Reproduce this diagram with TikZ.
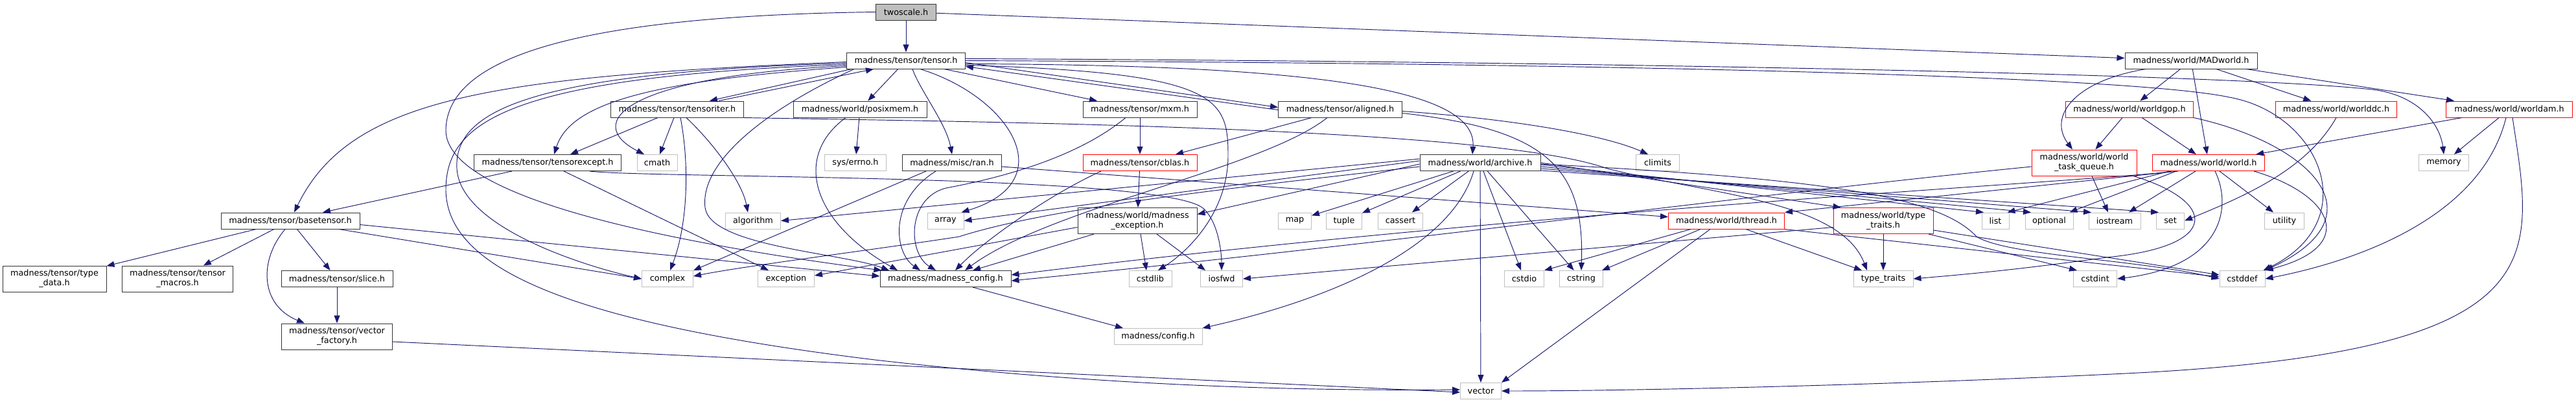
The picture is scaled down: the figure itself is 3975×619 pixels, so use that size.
\documentclass[tikz,border=0pt]{standalone}
\usepackage{fontspec}
\setmainfont{DejaVu Sans}
\usetikzlibrary{arrows.meta}
\definecolor{edgeblue}{HTML}{191970}
\definecolor{sysgray}{HTML}{BFBFBF}
\definecolor{boxline}{HTML}{333333}
\begin{document}
\begin{tikzpicture}[
    x=1pt, y=-1pt,
    hdr/.style={draw=boxline, fill=white, line width=1pt, inner sep=0pt, minimum height=25pt, align=center, font=\fontsize{12.8}{15}\selectfont},
    sys/.style={hdr, draw=sysgray},
    trunc/.style={hdr, draw=red},
    twoline/.style={minimum height=40pt},
    dep/.style={draw=edgeblue, line width=0.95pt, -{Triangle[length=12pt,width=9pt]}}
  ]
    \path[use as bounding box, fill=white] (0,0) rectangle (3975,619);

    % row 1 and 2
    \node[hdr, fill=sysgray, minimum width=93pt] (twoscale) at (1398,18.5) {twoscale.h};
    \node[hdr, minimum width=183pt] (tensor) at (1398,93.5) {madness/tensor/tensor.h};
    \node[hdr, minimum width=204pt] (madworld) at (3381,93.5) {madness/world/MADworld.h};

    % row 3
    \node[hdr, minimum width=205pt] (tensoriter) at (1045,168.5) {madness/tensor/tensoriter.h};
    \node[hdr, minimum width=206pt] (posixmem) at (1327,168.5) {madness/world/posixmem.h};
    \node[hdr, minimum width=176pt] (mxm) at (1759,168.5) {madness/tensor/mxm.h};
    \node[hdr, minimum width=191pt] (aligned) at (2068,168.5) {madness/tensor/aligned.h};
    \node[trunc, minimum width=197pt] (worldgop) at (3286,168.5) {madness/world/worldgop.h};
    \node[trunc, minimum width=187pt] (worlddc) at (3605,168.5) {madness/world/worlddc.h};
    \node[trunc, minimum width=195pt] (worldam) at (3872,168.5) {madness/world/worldam.h};

    % row 4
    \node[hdr, minimum width=227pt] (tensorexcept) at (845,251) {madness/tensor/tensorexcept.h};
    \node[sys, minimum width=62pt] (cmath) at (1014,251) {cmath};
    \node[sys, minimum width=95pt] (errno) at (1320,251) {sys/errno.h};
    \node[hdr, minimum width=153pt] (ran) at (1469,251) {madness/misc/ran.h};
    \node[trunc, minimum width=176pt] (cblas) at (1759,251) {madness/tensor/cblas.h};
    \node[hdr, minimum width=186pt] (archive) at (2284,251) {madness/world/archive.h};
    \node[sys, minimum width=67pt] (climits) at (2558,251) {climits};
    \node[trunc, twoline, minimum width=162pt] (taskq) at (3216,251) {madness/world/world\\\_task\_queue.h};
    \node[trunc, minimum width=173pt] (world) at (3408,251) {madness/world/world.h};
    \node[sys, minimum width=77pt] (memory) at (3771,251) {memory};

    % row 5
    \node[hdr, minimum width=214pt] (basetensor) at (448,340.5) {madness/tensor/basetensor.h};
    \node[sys, minimum width=85pt] (algorithm) at (1162,340.5) {algorithm};
    \node[sys, minimum width=56pt] (array) at (1459,340.5) {array};
    \node[hdr, twoline, minimum width=184pt] (mexcept) at (1755,340.5) {madness/world/madness\\\_exception.h};
    \node[sys, minimum width=51pt] (map) at (1998,340.5) {map};
    \node[sys, minimum width=55pt] (tuple) at (2074,340.5) {tuple};
    \node[sys, minimum width=69pt] (cassert) at (2161,340.5) {cassert};
    \node[trunc, minimum width=179pt] (thread) at (2664,340.5) {madness/world/thread.h};
    \node[trunc, twoline, minimum width=154pt] (wtypetraits) at (2906,340.5) {madness/world/type\\\_traits.h};
    \node[sys, minimum width=42pt] (list) at (3079,340.5) {list};
    \node[sys, minimum width=74pt] (optional) at (3162,340.5) {optional};
    \node[sys, minimum width=80pt] (iostream) at (3263,340.5) {iostream};
    \node[sys, minimum width=43pt] (set) at (3349,340.5) {set};
    \node[sys, minimum width=61pt] (utility) at (3525,340.5) {utility};

    % row 6
    \node[hdr, twoline, minimum width=160pt] (typedata) at (84,430) {madness/tensor/type\\\_data.h};
    \node[hdr, twoline, minimum width=171pt] (tmacros) at (274,430) {madness/tensor/tensor\\\_macros.h};
    \node[hdr, minimum width=172pt] (slice) at (520,430) {madness/tensor/slice.h};
    \node[sys, minimum width=79pt] (complex) at (1030,430) {complex};
    \node[sys, minimum width=87pt] (exception) at (1213,430) {exception};
    \node[hdr, minimum width=202pt] (mconfig) at (1459,430) {madness/madness\_config.h};
    \node[sys, minimum width=66pt] (cstdlib) at (1775,430) {cstdlib};
    \node[sys, minimum width=65pt] (iosfwd) at (1885,430) {iosfwd};
    \node[sys, minimum width=61pt] (cstdio) at (2352,430) {cstdio};
    \node[sys, minimum width=67pt] (cstring) at (2440,430) {cstring};
    \node[sys, minimum width=92pt] (typetraits) at (2906,430) {type\_traits};
    \node[sys, minimum width=67pt] (cstdint) at (3233,430) {cstdint};
    \node[sys, minimum width=70pt] (cstddef) at (3460,430) {cstddef};

    % rows 7 and 8
    \node[hdr, twoline, minimum width=171pt] (vfactory) at (520,519) {madness/tensor/vector\\\_factory.h};
    \node[sys, minimum width=136pt] (config) at (1787,519) {madness/config.h};
    \node[sys, minimum width=63pt] (vector) at (2285,603) {vector};

    % twoscale.h
    \draw[dep] (twoscale) -- (tensor);
    \draw[dep] (twoscale) -- (madworld);
    \draw[dep] (twoscale.west) .. controls (850,25) and (690,100) .. (688,200)
      .. controls (686,300) and (1000,370) .. ([xshift=3pt]mconfig.north west);

    % tensor.h
    \draw[dep] ([yshift=-2pt]tensor.west) .. controls (760,118) and (540,150) .. ([xshift=6pt]basetensor.north);
    \draw[dep] ([yshift=-4pt]tensor.west) .. controls (820,112) and (700,170) .. (705,260)
      .. controls (710,350) and (900,410) .. (complex.west);
    \draw[dep] ([yshift=-6pt]tensor.west) .. controls (780,118) and (690,190) .. (688,290)
      .. controls (686,420) and (900,500) .. (1350,555) .. controls (1700,595) and (2000,603) .. ([yshift=2pt]vector.west);
    \draw[dep] ([yshift=-8pt]tensor.west) .. controls (960,118) and (900,190) .. ([xshift=-20pt]cmath.north);
    \draw[dep] ([yshift=-10pt]tensor.west) .. controls (1000,125) and (880,160) .. ([xshift=10pt]tensorexcept.north);
    \draw[dep] ([xshift=8pt]tensor.south west) -- ([xshift=50pt]tensoriter.north);
    \draw[dep] ([xshift=64pt]tensoriter.north) -- ([xshift=-50pt]tensor.south);
    \draw[dep] ([xshift=-80pt]tensor.south) .. controls (1180,170) and (1080,250) .. (1088,320)
      .. controls (1095,380) and (1300,390) .. ([xshift=-87pt]mconfig.north);
    \draw[dep] (tensor) -- (posixmem);
    \draw[dep] ([xshift=10pt]tensor.south) .. controls (1420,140) and (1460,190) .. (ran.north);
    \draw[dep] ([xshift=22pt]tensor.south) .. controls (1560,150) and (1640,280) .. ([xshift=-4pt]array.north east);
    \draw[dep] ([xshift=-33pt]tensor.south east) -- ([xshift=-66pt]mxm.north);
    \draw[dep] ([yshift=-3pt]tensor.east) -- ([yshift=3pt]aligned.west);
    \draw[dep] ([yshift=-1pt]aligned.west) -- ([yshift=-9pt]tensor.east);
    \draw[dep] ([yshift=-5pt]tensor.east) .. controls (2050,100) and (2280,140) .. ([xshift=-12pt]archive.north);
    \draw[dep] ([yshift=-7pt]tensor.east) .. controls (1880,112) and (1895,150) .. (1895,240)
      .. controls (1895,330) and (1830,390) .. ([xshift=12pt]cstdlib.north);
    \draw[dep] ([yshift=3pt]tensor.east) .. controls (2500,95) and (3450,115) .. (3660,138)
      .. controls (3730,146) and (3765,190) .. (memory.north);
    \draw[dep] (tensor.east) .. controls (2600,98) and (3300,120) .. (3440,150)
      .. controls (3580,175) and (3650,340) .. ([xshift=-3pt]cstddef.north east);

    % tensoriter.h
    \draw[dep] ([xshift=-30pt]tensoriter.south) -- ([xshift=35pt]tensorexcept.north);
    \draw[dep] ([xshift=-5pt]tensoriter.south) -- ([xshift=4pt]cmath.north);
    \draw[dep] ([xshift=5pt]tensoriter.south) .. controls (1065,260) and (1060,350) .. ([xshift=4pt]complex.north);
    \draw[dep] ([xshift=14pt]tensoriter.south) .. controls (1100,220) and (1145,280) .. ([xshift=-8pt]algorithm.north);
    \draw[dep] (tensoriter.south east) .. controls (1500,188) and (2300,195) .. (2480,260)
      .. controls (2640,300) and (2840,310) .. ([xshift=-25pt]typetraits.north);

    % tensorexcept.h, posixmem.h, ran.h
    \draw[dep] ([xshift=-55pt]tensorexcept.south) -- ([xshift=50pt]basetensor.north);
    \draw[dep] ([xshift=25pt]tensorexcept.south) -- ([xshift=-27pt]exception.north);
    \draw[dep] ([xshift=65pt]tensorexcept.south) .. controls (1000,275) and (1780,268) .. (1855,320)
      .. controls (1880,340) and (1885,390) .. (iosfwd.north);
    \draw[dep] (posixmem) -- (errno);
    \draw[dep] ([xshift=-22pt]posixmem.south) .. controls (1225,240) and (1250,340) .. ([xshift=-74pt]mconfig.north);
    \draw[dep] ([xshift=-25pt]ran.south) .. controls (1370,310) and (1380,390) .. ([xshift=-39pt]mconfig.north);
    \draw[dep] ([xshift=-40pt]ran.south) -- (complex.north east);
    \draw[dep] ([yshift=-6pt]ran.east) -- ([yshift=6pt]thread.west);

    % mxm.h, aligned.h, cblas.h
    \draw[dep] (mxm) -- (cblas);
    \draw[dep] ([xshift=-22pt]mxm.south) .. controls (1660,245) and (1540,275) .. (1460,290)
      .. controls (1400,305) and (1400,390) .. ([xshift=-15pt]mconfig.north);
    \draw[dep] ([xshift=-44pt]aligned.south) -- ([xshift=55pt]cblas.north);
    \draw[dep] ([xshift=-20pt]aligned.south) .. controls (1950,260) and (1620,320) .. ([xshift=30pt]mconfig.north);
    \draw[dep] ([yshift=-3pt]aligned.east) .. controls (2350,185) and (2480,210) .. ([xshift=-15pt]climits.north);
    \draw[dep] ([yshift=-6pt]aligned.east) .. controls (2390,200) and (2445,260) .. (cstring.north);
    \draw[dep] (cblas) -- (mexcept);
    \draw[dep] ([xshift=-60pt]cblas.south) .. controls (1620,300) and (1520,370) .. ([xshift=15pt]mconfig.north);

    % madness_exception.h, madness_config.h
    \draw[dep] ([xshift=-67pt]mexcept.south) -- ([xshift=42pt]mconfig.north);
    \draw[dep] ([xshift=5pt]mexcept.south) -- ([xshift=-6pt]cstdlib.north);
    \draw[dep] ([xshift=30pt]mexcept.south) -- ([xshift=-25pt]iosfwd.north);
    \draw[dep] ([yshift=-10pt]mexcept.west) -- ([yshift=5pt]exception.east);
    \draw[dep] ([xshift=42pt]mconfig.south) -- ([xshift=-54pt]config.north);

    % basetensor.h, slice.h, vector_factory.h
    \draw[dep] (basetensor) -- (typedata);
    \draw[dep] (basetensor) -- (tmacros);
    \draw[dep] (basetensor) -- (slice);
    \draw[dep] ([xshift=-8pt]basetensor.south) .. controls (400,400) and (400,470) .. ([xshift=-50pt]vfactory.north);
    \draw[dep] ([xshift=75pt]basetensor.south) -- (complex.west);
    \draw[dep] ([yshift=-6pt]basetensor.east) -- ([yshift=4pt]mconfig.west);
    \draw[dep] (slice) -- (vfactory);
    \draw[dep] ([yshift=-8pt]vfactory.east) -- ([yshift=-2pt]vector.west);

    % archive.h
    \draw[dep] ([yshift=6pt]archive.west) -- (algorithm.east);
    \draw[dep] ([yshift=3pt]archive.west) -- (array.east);
    \draw[dep] ([yshift=-2pt]archive.west) -- ([yshift=10pt]mexcept.east);
    \draw[dep] ([yshift=-6pt]archive.west) .. controls (1900,290) and (1620,320) .. (1480,365)
      .. controls (1350,385) and (1150,410) .. ([yshift=4pt]complex.east);
    \draw[dep] ([xshift=-10pt]archive.south) .. controls (2240,380) and (2060,460) .. (config.north east);
    \draw[dep] (archive) -- (map);
    \draw[dep] (archive) -- (tuple);
    \draw[dep] (archive) -- (cassert);
    \draw[dep] (archive) -- (cstdio);
    \draw[dep] (archive) -- (cstring);
    \draw[dep] (archive) -- (vector);
    \draw[dep] ([yshift=10pt]archive.south east) -- ([xshift=-18pt]list.north);
    \draw[dep] ([yshift=7pt]archive.south east) -- ([xshift=-28pt]optional.north);
    \draw[dep] ([yshift=4pt]archive.south east) -- ([xshift=-36pt]iostream.north);
    \draw[dep] ([yshift=1pt]archive.south east) -- ([xshift=4pt]set.north west);
    \draw[dep] ([yshift=13pt]archive.south east) -- ([xshift=12pt]wtypetraits.north west);
    \draw[dep] ([yshift=-2pt]archive.east) .. controls (2800,275) and (2990,300) .. (3050,365)
      .. controls (3100,395) and (3300,400) .. (cstddef.west);

    % thread.h, type_traits.h
    \draw[dep] ([xshift=-55pt]thread.south) -- (cstdio.north east);
    \draw[dep] ([xshift=-40pt]thread.south) -- ([xshift=-2pt]cstring.north east);
    \draw[dep] ([xshift=-25pt]thread.south) -- (vector.north east);
    \draw[dep] ([xshift=30pt]thread.south) -- ([xshift=-33pt]typetraits.north);
    \draw[dep] (thread.south east) -- ([yshift=3pt]cstddef.west);
    \draw[dep] (wtypetraits) -- (typetraits);
    \draw[dep] ([xshift=70pt]wtypetraits.south) -- ([xshift=6pt]cstdint.north west);
    \draw[dep] ([yshift=6pt]wtypetraits.south east) -- ([yshift=6pt]cstddef.west);
    \draw[dep] ([yshift=-10pt]wtypetraits.west) -- (iosfwd.east);

    % world_task_queue.h
    \draw[dep] ([xshift=12pt]taskq.south) -- ([xshift=-10pt]iostream.north);
    \draw[dep] ([yshift=-6pt]taskq.west) .. controls (2700,300) and (2200,370) .. ([yshift=-3pt]mconfig.east);
    \draw[dep] ([xshift=76pt]taskq.south) .. controls (3420,310) and (3430,380) .. (3250,397)
      .. controls (3100,418) and (3010,425) .. (typetraits.east);

    % world.h
    \draw[dep] ([xshift=-60pt]world.south) -- ([xshift=-3pt]list.north east);
    \draw[dep] ([xshift=-50pt]world.south) -- ([xshift=-6pt]optional.north east);
    \draw[dep] ([xshift=-20pt]world.south) -- ([xshift=22pt]iostream.north);
    \draw[dep] ([xshift=40pt]world.south west) -- (thread.north east);
    \draw[dep] ([xshift=30pt]world.south west) .. controls (3310,275) and (2400,320) .. ([yshift=6pt]mconfig.east);
    \draw[dep] (world) -- (utility);
    \draw[dep] ([xshift=10pt]world.south) .. controls (3445,320) and (3430,410) .. (cstdint.east);
    \draw[dep] ([xshift=70pt]world.south) .. controls (3600,300) and (3640,380) .. (cstddef.north east);

    % MADworld.h and the world headers
    \draw[dep] ([xshift=-70pt]madworld.south) .. controls (3200,125) and (3160,180) .. ([xshift=-18pt]taskq.north);
    \draw[dep] (madworld) -- (worldgop);
    \draw[dep] (madworld) -- (world);
    \draw[dep] (madworld) -- (worlddc);
    \draw[dep] (madworld) -- (worldam);
    \draw[dep] (worldgop) -- (taskq);
    \draw[dep] (worldgop) -- (world);
    \draw[dep] (worldgop.south east) .. controls (3560,220) and (3680,330) .. (cstddef.north east);
    \draw[dep] (worlddc.south) .. controls (3560,260) and (3470,300) .. (set.east);
    \draw[dep] (worldam) -- (world);
    \draw[dep] (worldam) -- (memory);
    \draw[dep] ([xshift=-5pt]worldam.south) .. controls (3830,330) and (3650,400) .. (cstddef.east);
    \draw[dep] ([xshift=5pt]worldam.south) .. controls (3910,400) and (3950,540) .. (3300,575)
      .. controls (2900,595) and (2500,603) .. (vector.east);
\end{tikzpicture}
\end{document}
